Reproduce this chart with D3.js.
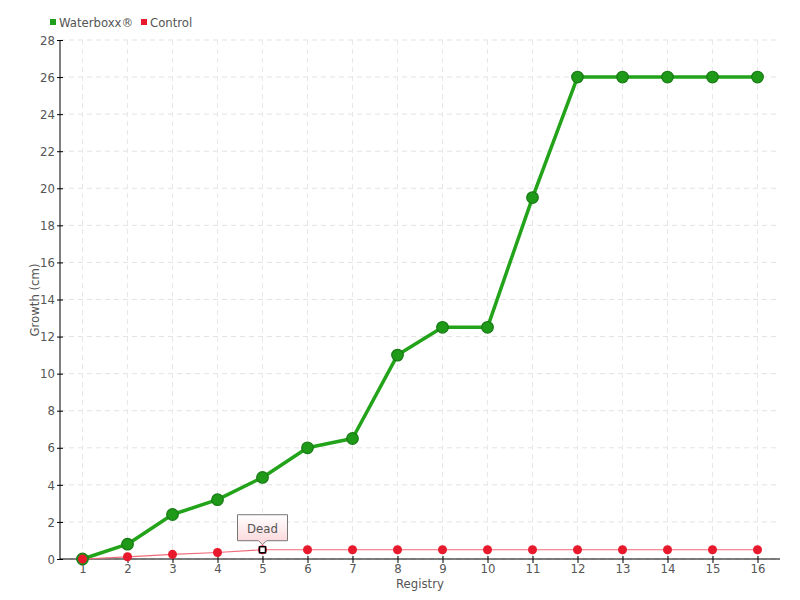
<!DOCTYPE html>
<html><head><meta charset="utf-8">
<script src="https://cdn.jsdelivr.net/npm/d3@7"></script>
<style>
body{margin:0;background:#fff;}
text{font-family:"DejaVu Sans Condensed","DejaVu Sans",sans-serif;font-stretch:condensed;fill:#555;}
</style></head>
<body><svg id="c" width="800" height="600"></svg>
<script>
const categories = ["1","2","3","4","5","6","7","8","9","10","11","12","13","14","15","16"];
const waterboxx = [0,0.8,2.4,3.2,4.4,6.0,6.5,11.0,12.5,12.5,19.5,26,26,26,26,26];
const control = [0,0.12,0.25,0.35,0.5,0.5,0.5,0.5,0.5,0.5,0.5,0.5,0.5,0.5,0.5,0.5];
const yTicks = d3.range(0,29,2);
const seriesNames = ["Waterboxx®","Control"];
const annotation = {index:4, label:"Dead"};

(function(){
const svg = d3.select("#c");
const mL=60,mR=780,mT=40,mB=559;
const x = d3.scalePoint().domain(categories).range([mL,mR]).padding(0.5);
const y = d3.scaleLinear().domain([0,28]).range([mB,mT]);

// grid
const g = svg.append("g");
g.selectAll(".hg").data(yTicks).join("line")
 .attr("x1",mL).attr("x2",mR).attr("y1",d=>y(d)).attr("y2",d=>y(d))
 .attr("stroke","#e3e3e3").attr("stroke-dasharray","5,4");
g.selectAll(".vg").data(categories).join("line")
 .attr("x1",d=>x(d)).attr("x2",d=>x(d)).attr("y1",mT).attr("y2",mB)
 .attr("stroke","#e8e8e8").attr("stroke-dasharray","5,4");

// axes
const ya = svg.append("g").attr("transform",`translate(${mL},0)`)
 .call(d3.axisLeft(y).tickValues(yTicks).tickSize(5).tickSizeOuter(0));
ya.selectAll(".tick line").attr("x2",3).attr("x1",-3).attr("stroke","#000");
ya.select(".domain").attr("stroke","#000").attr("d",`M0,${mT}V${mB}`);
ya.selectAll("text").attr("x",-5).style("font-size","13px").attr("fill","#555");

const xa = svg.append("g").attr("transform",`translate(0,${mB})`)
 .call(d3.axisBottom(x).tickSize(5).tickSizeOuter(0));
xa.selectAll(".tick line").attr("y1",-3).attr("y2",4).attr("stroke","#000");
xa.select(".domain").attr("stroke","#000").attr("d",`M${mL},0H${mR}`);
xa.selectAll("text").attr("y",5).style("font-size","13px").attr("fill","#555");

svg.append("text").attr("x",(mL+mR)/2).attr("y",588).attr("text-anchor","middle")
 .style("font-size","13px").text("Registry");
svg.append("text").attr("transform","translate(39,300) rotate(-90)").attr("text-anchor","middle")
 .style("font-size","13px").text("Growth (cm)");

// lines
const line = d3.line().x((d,i)=>x(categories[i])).y(d=>y(d));
svg.append("path").datum(waterboxx).attr("d",line).attr("fill","none")
 .attr("stroke","#22a31a").attr("stroke-width",3.5).attr("stroke-linejoin","round");
svg.append("path").datum(control).attr("d",line).attr("fill","none")
 .attr("stroke","#f26a78").attr("stroke-width",1.2);

svg.selectAll(".wp").data(waterboxx).join("circle")
 .attr("cx",(d,i)=>x(categories[i])).attr("cy",d=>y(d)).attr("r",5.8)
 .attr("fill","#1e9a18").attr("stroke","#187a14").attr("stroke-width",1.2);
svg.selectAll(".cp").data(control).join("circle")
 .attr("cx",(d,i)=>x(categories[i])).attr("cy",d=>y(d)).attr("r",4.5)
 .attr("fill","#e8192c");

// annotation marker
const ax = x(categories[annotation.index]), ay = y(control[annotation.index]);
svg.append("rect").attr("x",ax-3).attr("y",ay-3).attr("width",6).attr("height",6)
 .attr("fill","#fff").attr("stroke","#000").attr("stroke-width",1.5);
const defs = svg.append("defs");
const grad = defs.append("linearGradient").attr("id","tg").attr("x1",0).attr("y1",0).attr("x2",0).attr("y2",1);
grad.append("stop").attr("offset","0%").attr("stop-color","#ffffff");
grad.append("stop").attr("offset","100%").attr("stop-color","#fbd4d8");
const bh=26,by=ay-35;
svg.append("path")
 .attr("d",`M${ax-25},${by}H${ax+25}V${by+bh}H${ax+4}L${ax},${by+bh+4}L${ax-4},${by+bh}H${ax-25}Z`)
 .attr("fill","url(#tg)").attr("stroke","#777").attr("stroke-width",1);
svg.append("text").attr("x",ax).attr("y",by+18).attr("text-anchor","middle")
 .style("font-size","13px").text(annotation.label);

// legend
const legColors=["#1ea01a","#e8192c"];
const legX=[50,141];
seriesNames.forEach((n,i)=>{
  svg.append("rect").attr("x",legX[i]).attr("y",19).attr("width",6).attr("height",6).attr("fill",legColors[i]);
  svg.append("text").attr("x",legX[i]+9).attr("y",27).style("font-size","13px").text(n);
});
})();
</script></body></html>
